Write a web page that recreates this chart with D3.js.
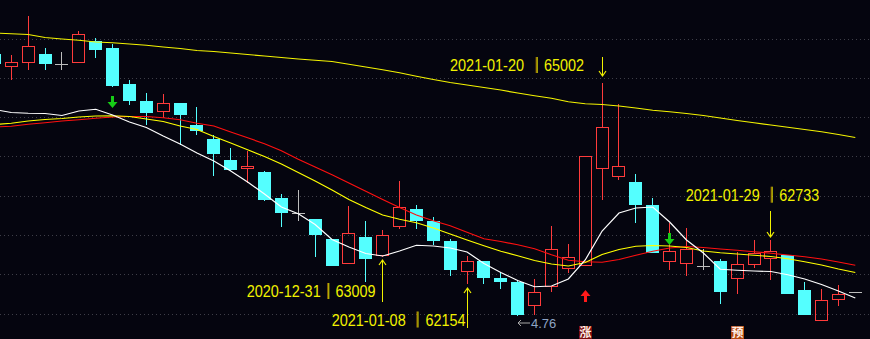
<!DOCTYPE html>
<html>
<head>
<meta charset="utf-8">
<script src="https://cdn.jsdelivr.net/npm/d3@7"></script>
<style>
html, body { margin: 0; padding: 0; background: #05050f; overflow: hidden; }
svg { display: block; }
</style>
</head>
<body>
<svg id="chart" width="870" height="339"></svg>
<script>
// one entry per bar, the first bar is cut by the left edge, the last one is the forecast bar
var opens = [5.806, 5.755, 5.771, 5.806, 5.765, 5.771, 5.857, 5.830, 5.686, 5.618, 5.575, 5.609, 5.521,
    5.465, 5.382, 5.347, 5.334, 5.230, 5.169, 5.146, 5.066, 4.968, 5.074, 4.998, 5.112, 5.186, 5.137,
    5.059, 4.933, 4.979, 4.911, 4.893, 4.798, 4.875, 4.947, 4.956, 5.347, 5.315, 5.295, 5.202, 4.975,
    4.964, 4.956, 4.978, 4.907, 4.963, 4.985, 5.002, 4.862, 4.739, 4.820, 4.852];
var highs = [5.822, 5.802, 5.958, 5.829, 5.813, 5.898, 5.870, 5.846, 5.702, 5.650, 5.646, 5.610, 5.595,
    5.480, 5.429, 5.420, 5.338, 5.246, 5.262, 5.148, 5.068, 5.198, 5.138, 5.102, 5.298, 5.202, 5.153,
    5.065, 4.997, 4.979, 4.933, 4.903, 4.906, 5.118, 5.046, 5.397, 5.690, 5.605, 5.326, 5.229, 5.129,
    5.109, 5.027, 4.986, 5.014, 5.062, 5.062, 5.004, 4.893, 4.866, 4.882, 4.852];
var lows = [5.758, 5.702, 5.742, 5.742, 5.742, 5.771, 5.790, 5.673, 5.602, 5.523, 5.549, 5.442, 5.482,
    5.318, 5.336, 5.292, 5.220, 5.115, 5.139, 4.995, 4.958, 4.967, 4.895, 4.994, 5.106, 5.108, 5.044,
    4.919, 4.888, 4.888, 4.865, 4.760, 4.762, 4.855, 4.928, 4.956, 5.223, 5.303, 5.131, 5.011, 4.943,
    4.919, 4.942, 4.807, 4.847, 4.951, 4.902, 4.846, 4.762, 4.739, 4.798, 4.852];
var closes = [5.766, 5.773, 5.837, 5.766, 5.765, 5.885, 5.822, 5.678, 5.619, 5.571, 5.609, 5.562, 5.499,
    5.406, 5.342, 5.358, 5.223, 5.171, 5.169, 5.082, 4.959, 5.089, 4.986, 5.081, 5.193, 5.140, 5.059,
    4.943, 4.978, 4.911, 4.895, 4.762, 4.853, 5.025, 4.992, 5.397, 5.513, 5.357, 5.202, 5.011, 5.017,
    5.026, 4.956, 4.855, 4.965, 5.009, 5.017, 4.846, 4.762, 4.822, 4.846, 4.852];

// moving averages, read per bar
var ma5 = [5.584, 5.572, 5.569, 5.568, 5.560, 5.578, 5.585, 5.562, 5.534, 5.512, 5.478, 5.446, 5.410,
    5.378, 5.338, 5.294, 5.246, 5.194, 5.167, 5.124, 5.064, 5.034, 5.008, 4.998, 5.018, 5.041, 5.038,
    5.030, 5.014, 4.968, 4.932, 4.900, 4.875, 4.878, 4.906, 4.982, 5.098, 5.170, 5.190, 5.194, 5.134,
    5.062, 5.010, 4.945, 4.941, 4.938, 4.936, 4.923, 4.906, 4.884, 4.858, 4.830];
var ma10 = [5.524, 5.529, 5.538, 5.544, 5.548, 5.554, 5.558, 5.559, 5.556, 5.546, 5.536, 5.518, 5.504,
    5.476, 5.450, 5.423, 5.396, 5.366, 5.332, 5.298, 5.262, 5.224, 5.192, 5.162, 5.145, 5.131, 5.110,
    5.086, 5.062, 5.039, 5.017, 4.999, 4.980, 4.966, 4.958, 4.972, 5.004, 5.024, 5.037, 5.040, 5.038,
    5.032, 5.018, 5.011, 5.006, 5.001, 4.996, 4.987, 4.975, 4.962, 4.946, 4.932];
var ma20 = [5.514, 5.517, 5.525, 5.531, 5.538, 5.543, 5.549, 5.554, 5.556, 5.556, 5.551, 5.543, 5.529,
    5.518, 5.494, 5.471, 5.447, 5.419, 5.385, 5.354, 5.323, 5.290, 5.257, 5.224, 5.192, 5.162, 5.139,
    5.119, 5.093, 5.067, 5.056, 5.043, 5.027, 5.003, 4.981, 4.975, 4.973, 4.984, 5.001, 5.017, 5.030,
    5.036, 5.032, 5.026, 5.021, 5.015, 5.009, 5.002, 4.995, 4.986, 4.974, 4.961];
var ma60 = [5.890, 5.887, 5.884, 5.872, 5.866, 5.861, 5.854, 5.851, 5.846, 5.841, 5.834, 5.828, 5.820,
    5.816, 5.810, 5.804, 5.798, 5.792, 5.786, 5.781, 5.776, 5.765, 5.754, 5.743, 5.731, 5.717, 5.704,
    5.692, 5.682, 5.672, 5.662, 5.650, 5.639, 5.629, 5.615, 5.607, 5.604, 5.598, 5.590, 5.581, 5.575,
    5.568, 5.560, 5.550, 5.540, 5.531, 5.522, 5.513, 5.504, 5.495, 5.484, 5.472];

// notes on the chart: bar index, date, value, arrow side
var noteBars = [23, 28, 36, 46];
var noteDates = ["2020-12-31", "2021-01-08", "2021-01-20", "2021-01-29"];
var noteValues = ["63009", "62154", "65002", "62733"];
var noteSides = ["below", "below", "above", "above"];

// cross signals: bar index, kind, price at the arrow tip
var signalBars = [7, 35, 40];
var signalKinds = ["sell", "buy", "sell"];
var signalTips = [5.590, 4.862, 5.042];

// small tags under the bars
var tagBars = [35, 44];
var tagTexts = ["涨", "预"];

var lowBar = 31;
var lowText = "4.76";

var W = 870, H = 339;
var svg = d3.select("#chart");

var x = d3.scaleLinear().domain([0, opens.length - 1]).range([-5.58, 855.3]);
var y = d3.scaleLinear().domain([4.76, 6.022]).range([315.5, 0]);
var gridY = d3.scaleLinear().domain([0, 7]).range([38.5, 313.8]);

var UP = "#ff3b3b", DOWN = "#54ffff", FLAT = "#bdbdbd";

svg.append("rect").attr("width", W).attr("height", H).attr("fill", "#05050f");

// dotted grid
svg.append("g").selectAll("line")
    .data(d3.range(8))
    .enter().append("line")
    .attr("x1", 0).attr("x2", W)
    .attr("y1", function (d) { return Math.round(gridY(d)) + 0.5; })
    .attr("y2", function (d) { return Math.round(gridY(d)) + 0.5; })
    .attr("stroke", "#3e3e48")
    .attr("stroke-dasharray", "1,3");

// candles
var bars = svg.append("g").attr("shape-rendering", "crispEdges");
opens.forEach(function (o, i) {
    var c = closes[i], h = highs[i], l = lows[i];
    var cx = Math.floor(x(i));
    var top = Math.round(y(Math.max(o, c))), bot = Math.round(y(Math.min(o, c)));
    var yh = Math.round(y(h)), yl = Math.round(y(l));
    if (c > o) {
        if (yh < top) bars.append("line").attr("x1", cx + 0.5).attr("x2", cx + 0.5)
            .attr("y1", yh).attr("y2", top).attr("stroke", UP);
        if (yl > bot) bars.append("line").attr("x1", cx + 0.5).attr("x2", cx + 0.5)
            .attr("y1", bot).attr("y2", yl).attr("stroke", UP);
        bars.append("rect").attr("x", cx - 5.5).attr("y", top + 0.5)
            .attr("width", 12).attr("height", Math.max(1, bot - top - 1))
            .attr("fill", "none").attr("stroke", UP);
    } else if (c < o) {
        bars.append("line").attr("x1", cx + 0.5).attr("x2", cx + 0.5)
            .attr("y1", yh).attr("y2", yl).attr("stroke", DOWN);
        bars.append("rect").attr("x", cx - 6).attr("y", top)
            .attr("width", 13).attr("height", Math.max(1, bot - top))
            .attr("fill", DOWN);
    } else {
        if (yl > yh) bars.append("line").attr("x1", cx + 0.5).attr("x2", cx + 0.5)
            .attr("y1", yh).attr("y2", yl).attr("stroke", FLAT);
        bars.append("line").attr("x1", cx - 6).attr("x2", cx + 7)
            .attr("y1", top + 0.5).attr("y2", top + 0.5).attr("stroke", FLAT);
    }
});

// moving average lines
var line = d3.line()
    .x(function (d, i) { return x(i); })
    .y(function (d) { return y(d); });

[[ma60, "#f4f400"], [ma20, "#ff1010"], [ma10, "#ffff00"], [ma5, "#ffffff"]].forEach(function (m) {
    svg.append("path")
        .attr("d", line(m[0]))
        .attr("fill", "none")
        .attr("stroke", m[1])
        .attr("stroke-width", 1.2);
});

// cross signal arrows
signalBars.forEach(function (b, k) {
    var cx = Math.floor(x(b)) + 0.5, t = y(signalTips[k]);
    var col = signalKinds[k] === "sell" ? "#16cc16" : "#ff1a1a";
    var s = signalKinds[k] === "sell" ? -1 : 1;
    svg.append("path")
        .attr("d", "M" + cx + "," + t +
            "L" + (cx + 5) + "," + (t + s * 6) +
            "L" + (cx + 1.5) + "," + (t + s * 6) +
            "L" + (cx + 1.5) + "," + (t + s * 12) +
            "L" + (cx - 1.5) + "," + (t + s * 12) +
            "L" + (cx - 1.5) + "," + (t + s * 6) +
            "L" + (cx - 5) + "," + (t + s * 6) + "Z")
        .attr("fill", col);
});

// note labels (placement of each label as in the picture)
var notePlace = [
    {date: 246.7, bar: 328.3, value: 335.5, base: 297, tip: 260, end: 302},
    {date: 331.7, bar: 417.5, value: 425.5, base: 325.5, tip: 288, end: 328},
    {date: 450, bar: 536.7, value: 544, base: 71, tip: 76, end: 57},
    {date: 685.7, bar: 771.7, value: 779.3, base: 200.7, tip: 237, end: 211}
];
var NOTE = "#f2f200";
noteBars.forEach(function (b, k) {
    var p = notePlace[k], ax = Math.floor(x(b)) + 0.5;
    var s = noteSides[k] === "above" ? -1 : 1;
    var g = svg.append("g");
    g.append("line").attr("x1", ax).attr("x2", ax).attr("y1", p.tip).attr("y2", p.end)
        .attr("stroke", NOTE).attr("stroke-width", 1);
    g.append("path")
        .attr("d", "M" + (ax - 3.5) + "," + (p.tip + s * 5) + "L" + ax + "," + p.tip + "L" + (ax + 3.5) + "," + (p.tip + s * 5))
        .attr("fill", "none").attr("stroke", NOTE).attr("stroke-width", 1.2);
    g.append("text").attr("x", p.date).attr("y", p.base)
        .attr("textLength", 74).attr("lengthAdjust", "spacingAndGlyphs")
        .attr("font-family", "Liberation Sans, Arial, sans-serif").attr("font-size", 16)
        .attr("fill", NOTE).text(noteDates[k]);
    g.append("line").attr("x1", p.bar - 0.5).attr("x2", p.bar - 0.5)
        .attr("y1", p.base - 14).attr("y2", p.base + 2).attr("stroke", "#b07a00");
    g.append("line").attr("x1", p.bar + 0.5).attr("x2", p.bar + 0.5)
        .attr("y1", p.base - 14).attr("y2", p.base + 2).attr("stroke", "#e8e800");
    g.append("text").attr("x", p.value).attr("y", p.base)
        .attr("textLength", 40).attr("lengthAdjust", "spacingAndGlyphs")
        .attr("font-family", "Liberation Sans, Arial, sans-serif").attr("font-size", 16)
        .attr("fill", NOTE).text(noteValues[k]);
});

// lowest price marker
var lx = Math.floor(x(lowBar)) + 1, ly = y(lows[lowBar]) + 7.5;
svg.append("path")
    .attr("d", "M" + (lx + 12) + "," + ly + "L" + lx + "," + ly + "M" + (lx + 3) + "," + (ly - 3) + "L" + lx + "," + ly + "L" + (lx + 3) + "," + (ly + 3))
    .attr("fill", "none").attr("stroke", "#a8a8a8").attr("stroke-width", 1);
svg.append("text").attr("x", lx + 13).attr("y", ly + 5)
    .attr("font-family", "Liberation Sans, Arial, sans-serif").attr("font-size", 13)
    .attr("fill", "#8ea4c4").text(lowText);

// tags at the bottom
var tagFill = ["#7a0c0c", "#b4470f"];
tagBars.forEach(function (b, k) {
    var cx = Math.floor(x(b));
    svg.append("rect").attr("x", cx - 6).attr("y", 326).attr("width", 13).attr("height", 13)
        .attr("fill", tagFill[k]);
    svg.append("text").attr("x", cx + 0.5).attr("y", 337)
        .attr("text-anchor", "middle")
        .attr("font-family", "Noto Sans CJK SC, sans-serif").attr("font-size", 12)
        .attr("font-weight", "bold")
        .attr("fill", "#fff0e8").text(tagTexts[k]);
});
</script>
</body>
</html>
